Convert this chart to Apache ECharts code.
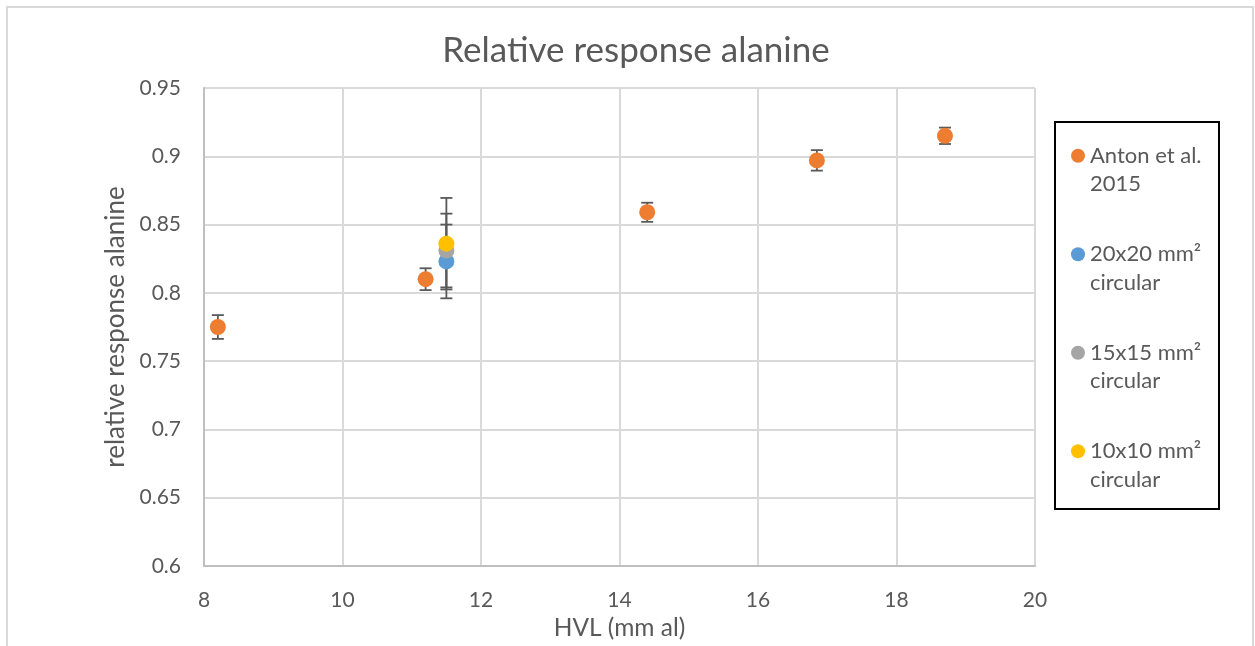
<!DOCTYPE html>
<html>
<head>
<meta charset="utf-8">
<script src="https://cdn.jsdelivr.net/npm/echarts@6/dist/echarts.min.js"></script>
<style>html,body{margin:0;padding:0;background:#fff}#c{width:1255px;height:646px}</style>
</head>
<body>
<div id="c"></div>
<script>
// ---- data ----
const seriesNames = ['Anton et al. 2015', '20x20 mm² circular', '15x15 mm² circular', '10x10 mm² circular'];
const legendLabels = ['Anton et al.\n2015', '20x20 mm²\ncircular', '15x15 mm²\ncircular', '10x10 mm²\ncircular'];
const colors = ['#ED7D31', '#5B9BD5', '#A5A5A5', '#FFC000'];

const antonX = [8.2, 11.2, 14.4, 16.85, 18.7];
const antonY = [0.775, 0.81, 0.859, 0.897, 0.915];
const antonErr = [0.0087, 0.008, 0.007, 0.0075, 0.006];

const s20X = [11.5];
const s20Y = [0.823];
const s20Err = [0.027];

const s15X = [11.5];
const s15Y = [0.831];
const s15Err = [0.027];

const s10X = [11.5];
const s10Y = [0.836];
const s10Err = [0.0335];

const xTicks = { min: 8, max: 20, interval: 2 };
const yTicks = { min: 0.6, max: 0.95, interval: 0.05 };

// ---- build ----
const groups = [
  [antonX, antonY, antonErr],
  [s20X, s20Y, s20Err],
  [s15X, s15Y, s15Err],
  [s10X, s10Y, s10Err]
];
const FONT = 'Lato';
const TXT = '#595959';

function errRender(params, api) {
  const x = api.value(0), y = api.value(1), e = api.value(2);
  const top = api.coord([x, y + e]);
  const bot = api.coord([x, y - e]);
  const hw = 6;
  const st = { stroke: '#595959', lineWidth: 1.8 };
  return {
    type: 'group',
    children: [
      { type: 'line', shape: { x1: top[0], y1: top[1], x2: bot[0], y2: bot[1] }, style: st },
      { type: 'line', shape: { x1: top[0] - hw, y1: top[1], x2: top[0] + hw, y2: top[1] }, style: st },
      { type: 'line', shape: { x1: bot[0] - hw, y1: bot[1], x2: bot[0] + hw, y2: bot[1] }, style: st }
    ]
  };
}

const series = [];
groups.forEach((g, i) => {
  const [xs, ys, es] = g;
  series.push({
    type: 'custom',
    name: seriesNames[i],
    renderItem: errRender,
    data: xs.map((x, k) => [x, ys[k], es[k]]),
    z: 2,
    silent: true,
    itemStyle: { color: colors[i] }
  });
});
groups.forEach((g, i) => {
  const [xs, ys] = g;
  series.push({
    type: 'scatter',
    name: seriesNames[i],
    data: xs.map((x, k) => [x, ys[k]]),
    symbol: 'circle',
    symbolSize: 16,
    itemStyle: { color: colors[i], opacity: 1 },
    z: 3 + i
  });
});

const chart = echarts.init(document.getElementById('c'), null, { renderer: 'canvas' });
chart.setOption({
  animation: false,
  backgroundColor: '#fff',
  textStyle: { fontFamily: FONT },
  title: {
    text: 'Relative response alanine',
    left: 631, top: 28, textAlign: 'center',
    textStyle: { fontFamily: FONT, fontSize: 35, fontWeight: 'normal', color: TXT }
  },
  grid: { left: 204, right: 220, top: 88, bottom: 77, containLabel: false },
  xAxis: {
    type: 'value', min: xTicks.min, max: xTicks.max, interval: xTicks.interval,
    name: 'HVL (mm al)', nameLocation: 'middle', nameGap: 50,
    nameTextStyle: { fontFamily: FONT, fontSize: 24.5, color: TXT },
    axisLine: { show: true, lineStyle: { color: '#BFBFBF', width: 2 } },
    axisTick: { show: false },
    axisLabel: { fontFamily: FONT, fontSize: 21, color: TXT, margin: 24 },
    splitLine: { show: true, lineStyle: { color: '#D9D9D9', width: 2 } }
  },
  yAxis: {
    type: 'value', min: yTicks.min, max: yTicks.max, interval: yTicks.interval,
    name: 'relative response alanine', nameLocation: 'middle', nameGap: 73, nameRotate: 90,
    nameTextStyle: { fontFamily: FONT, fontSize: 26, color: TXT },
    axisLine: { show: true, lineStyle: { color: '#BFBFBF', width: 2 } },
    axisTick: { show: false },
    axisLabel: { fontFamily: FONT, fontSize: 21, color: TXT, margin: 23,
      formatter: v => String(parseFloat(v.toFixed(2))) },
    splitLine: { show: true, lineStyle: { color: '#D9D9D9', width: 2 } }
  },
  legend: {
    orient: 'vertical', left: 1071, top: 113, padding: 0, itemGap: 13,
    itemWidth: 14, itemHeight: 14, icon: 'circle', selectedMode: false,
    data: seriesNames.map((n, i) => ({ name: n, icon: 'circle', itemStyle: { color: colors[i] } })),
    formatter: name => '\n' + legendLabels[seriesNames.indexOf(name)],
    textStyle: { fontFamily: FONT, fontSize: 22, color: TXT, lineHeight: 28.5 }
  },
  graphic: [
    { type: 'rect', shape: { x: 7, y: 7, width: 1246, height: 700 }, style: { fill: 'none', stroke: '#D9D9D9', lineWidth: 2 }, silent: true, z: -1 },
    { type: 'rect', shape: { x: 1055, y: 122, width: 164, height: 387 }, style: { fill: 'none', stroke: '#000', lineWidth: 2 }, silent: true }
  ],
  series: series
});
</script>
</body>
</html>
